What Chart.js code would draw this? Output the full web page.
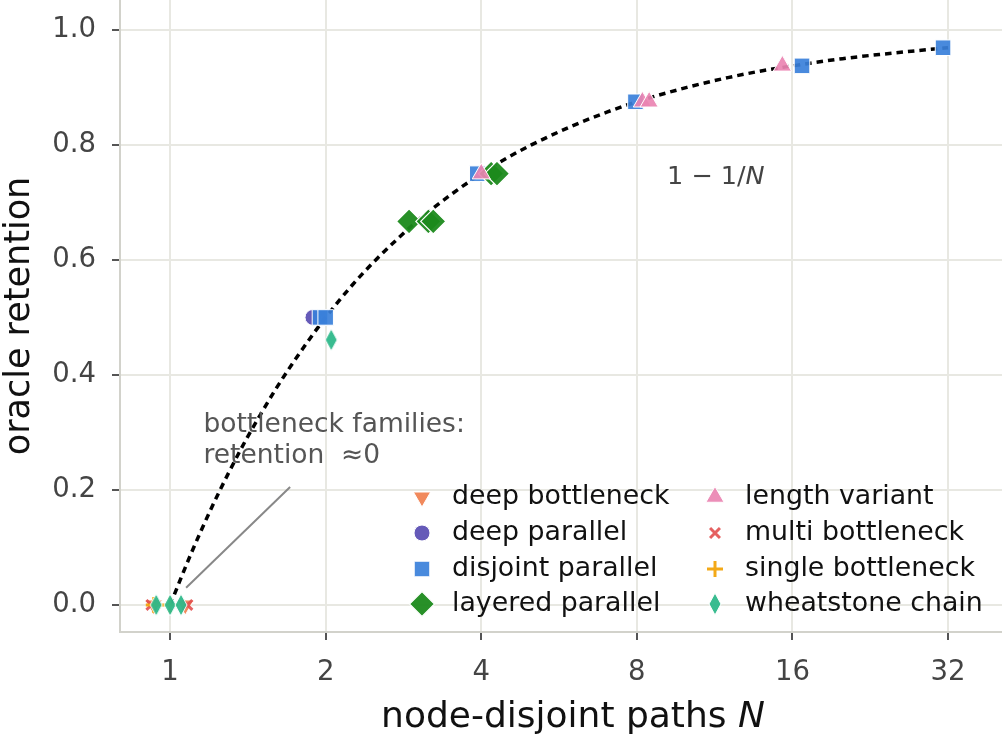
<!DOCTYPE html>
<html><head><meta charset="utf-8">
<script src="https://cdn.jsdelivr.net/npm/chart.js@4.4.1/dist/chart.umd.min.js"></script>
<style>html,body{margin:0;padding:0;background:#fff}#wrap{width:1002px;height:736px}</style>
</head><body><div id="wrap"><canvas id="c" width="1002" height="736"></canvas></div>
<script>
// ---- data ----
const xTickValues = [1, 2, 4, 8, 16, 32];
const yTickValues = [0.0, 0.2, 0.4, 0.6, 0.8, 1.0];

const familyNames = ['deep bottleneck', 'deep parallel', 'disjoint parallel', 'layered parallel',
                     'length variant', 'multi bottleneck', 'single bottleneck', 'wheatstone chain'];

const deepBottleneckN = [0.93, 1.07];
const deepBottleneckR = [0.0, 0.0];
const deepParallelN = [1.89];
const deepParallelR = [0.5];
const disjointParallelN = [1.95, 2.0, 3.93, 7.95, 16.7, 31.3];
const disjointParallelR = [0.5, 0.5, 0.75, 0.875, 0.9375, 0.969];
const layeredParallelN = [2.9, 3.16, 3.23, 4.18, 4.29];
const layeredParallelR = [0.667, 0.667, 0.667, 0.75, 0.75];
const lengthVariantN = [4.0, 8.2, 8.45, 15.3];
const lengthVariantR = [0.75, 0.875, 0.875, 0.9375];
const multiBottleneckN = [0.92, 1.08];
const multiBottleneckR = [0.0, 0.0];
const singleBottleneckN = [0.93, 1.0];
const singleBottleneckR = [0.0, 0.0];
const wheatstoneChainN = [0.94, 1.0, 1.05, 2.05];
const wheatstoneChainR = [0.0, 0.0, 0.0, 0.461];

// reference curve 1 - 1/N
const curveN = [1, 1.1, 1.2, 1.3, 1.4, 1.5, 1.6, 1.8, 2, 2.25, 2.5, 2.75, 3, 3.5, 4, 4.5, 5, 6, 7, 8, 10, 12, 14, 16, 20, 24, 28, 32];
const curveR = [0, 0.091, 0.167, 0.231, 0.286, 0.333, 0.375, 0.444, 0.5, 0.556, 0.6, 0.636, 0.667, 0.714, 0.75, 0.778, 0.8, 0.833, 0.857, 0.875, 0.9, 0.917, 0.929, 0.9375, 0.95, 0.958, 0.964, 0.969];

// annotation anchors (data coordinates)
const annotLineN = [1.074, 1.707];
const annotLineR = [0.030, 0.205];
const annotTextN = 1.16;
const annotTextR = [0.313, 0.259];
const annotLines = ['bottleneck families:', 'retention  \u22480'];
const formulaN = 9.15;
const formulaR = 0.743;

// ---- styles ----
const FONT = '"DejaVu Sans", "Liberation Sans", sans-serif';
function thinDiamond(color) {
  const c = document.createElement('canvas');
  c.width = 16; c.height = 24;
  const g = c.getContext('2d');
  g.beginPath();
  g.moveTo(8, 1); g.lineTo(14, 12); g.lineTo(8, 23); g.lineTo(2, 12); g.closePath();
  g.fillStyle = color; g.fill();
  g.strokeStyle = '#fff'; g.lineWidth = 1; g.stroke();
  return c;
}
const familyStyles = [
  {color: 'rgba(240,124,74,0.9)', pointStyle: 'triangle', radius: 10, rotation: 180, border: '#fff', bw: 1},
  {color: 'rgba(88,76,178,0.92)', pointStyle: 'circle', radius: 8, rotation: 0, border: '#fff', bw: 1},
  {color: 'rgba(58,128,218,0.92)', pointStyle: 'rect', radius: 11, rotation: 0, border: '#fff', bw: 1},
  {color: 'rgba(28,138,28,0.95)', pointStyle: 'rectRot', radius: 12.5, rotation: 0, border: '#fff', bw: 1.2},
  {color: 'rgba(234,132,178,0.92)', pointStyle: 'triangle', radius: 10.5, rotation: 0, border: '#fff', bw: 1},
  {color: 'rgba(226,80,80,0.9)', pointStyle: 'crossRot', radius: 7, rotation: 0, border: 'rgba(226,80,80,0.9)', bw: 3},
  {color: 'rgba(242,164,12,0.95)', pointStyle: 'cross', radius: 8, rotation: 0, border: 'rgba(242,164,12,0.95)', bw: 3},
  {color: 'rgba(46,184,138,0.95)', pointStyle: null, radius: 11, rotation: 0, border: '#fff', bw: 0},
];
familyStyles[7].pointStyle = thinDiamond('rgba(46,184,138,0.95)');

const familyN = [deepBottleneckN, deepParallelN, disjointParallelN, layeredParallelN, lengthVariantN, multiBottleneckN, singleBottleneckN, wheatstoneChainN];
const familyR = [deepBottleneckR, deepParallelR, disjointParallelR, layeredParallelR, lengthVariantR, multiBottleneckR, singleBottleneckR, wheatstoneChainR];

const datasets = [{
  label: 'curve',
  data: curveN.map((n, i) => ({x: n, y: curveR[i]})),
  showLine: true, pointRadius: 0, borderColor: '#000', borderWidth: 3.5,
  borderDash: [6.5, 5], cubicInterpolationMode: 'monotone', order: 100
}];
familyNames.forEach((name, i) => {
  const s = familyStyles[i];
  datasets.push({
    label: name,
    data: familyN[i].map((n, j) => ({x: n, y: familyR[i][j]})),
    showLine: false,
    pointStyle: s.pointStyle, pointRadius: s.radius, pointRotation: s.rotation,
    backgroundColor: s.color, borderColor: s.border, pointBorderWidth: s.bw, borderWidth: s.bw,
    pointHoverRadius: s.radius, order: 8 - i
  });
});

const overlay = {
  id: 'overlay',
  afterDatasetsDraw(chart) {
    const ctx = chart.ctx, xs = chart.scales.x, ys = chart.scales.y;
    ctx.save();
    ctx.strokeStyle = '#888'; ctx.lineWidth = 2;
    ctx.beginPath();
    ctx.moveTo(xs.getPixelForValue(annotLineN[0]), ys.getPixelForValue(annotLineR[0]));
    ctx.lineTo(xs.getPixelForValue(annotLineN[1]), ys.getPixelForValue(annotLineR[1]));
    ctx.stroke();
    ctx.fillStyle = '#555'; ctx.font = '26.5px ' + FONT; ctx.textBaseline = 'middle'; ctx.textAlign = 'left';
    annotLines.forEach((t, i) => ctx.fillText(t, xs.getPixelForValue(annotTextN), ys.getPixelForValue(annotTextR[i])));
    const fx = xs.getPixelForValue(formulaN), fy = ys.getPixelForValue(formulaR);
    ctx.fillStyle = '#444'; ctx.font = '25.5px ' + FONT;
    const p1 = '1 \u2212 1/';
    ctx.fillText(p1, fx, fy);
    const w1 = ctx.measureText(p1).width;
    ctx.font = 'italic 25.5px ' + FONT;
    ctx.fillText('N', fx + w1, fy);
    ctx.restore();
  },
  afterDraw(chart) {
    const ctx = chart.ctx;
    ctx.save();
    const cols = [{m: 422, t: 452}, {m: 715, t: 745}];
    const rows = [497, 533, 569, 604];
    ctx.font = '26.8px ' + FONT; ctx.textBaseline = 'middle'; ctx.textAlign = 'left';
    familyNames.forEach((name, i) => {
      const col = cols[Math.floor(i / 4)], y = rows[i % 4];
      const s = familyStyles[i];
      ctx.fillStyle = s.color; ctx.strokeStyle = s.border; ctx.lineWidth = s.bw;
      Chart.helpers.drawPoint(ctx, {pointStyle: s.pointStyle, radius: s.radius, rotation: s.rotation, borderWidth: s.bw}, col.m, y);
      ctx.fillStyle = '#111';
      ctx.fillText(name, col.t, y);
    });
    ctx.fillStyle = '#111';
    ctx.font = '36px ' + FONT;
    const a = 'node-disjoint paths ';
    const wa = ctx.measureText(a).width;
    ctx.font = 'italic 36px ' + FONT;
    const wb = ctx.measureText('N').width;
    const x0 = 573 - (wa + wb) / 2;
    ctx.textAlign = 'left';
    ctx.font = '36px ' + FONT; ctx.fillText(a, x0, 718);
    ctx.font = 'italic 36px ' + FONT; ctx.fillText('N', x0 + wa, 718);
    ctx.translate(20, 316); ctx.rotate(-Math.PI / 2);
    ctx.font = '35px ' + FONT; ctx.textAlign = 'center';
    ctx.fillText('oracle retention', 0, 0);
    ctx.restore();
  }
};

new Chart(document.getElementById('c'), {
  type: 'scatter',
  data: {datasets},
  options: {
    responsive: false, animation: false, devicePixelRatio: 1,
    layout: {padding: 0, autoPadding: false},
    plugins: {legend: {display: false}, tooltip: {enabled: false}},
    scales: {
      x: {
        type: 'logarithmic', min: 0.8, max: 40.7,
        afterBuildTicks: s => { s.ticks = xTickValues.map(v => ({value: v})); },
        afterFit: s => { s.height = 104; s.paddingLeft = 0; s.paddingRight = 0; },
        ticks: {callback: v => String(v), color: '#444', font: {family: FONT, size: 27.5}, padding: 16, maxRotation: 0, autoSkip: false},
        grid: {color: '#e8e8e2', lineWidth: 2, tickColor: '#555', tickLength: 8, tickWidth: 2},
        border: {display: true, color: '#d2d2cb', width: 2}
      },
      y: {
        type: 'linear', min: -0.047, max: 1.052,
        afterBuildTicks: s => { s.ticks = yTickValues.map(v => ({value: v})); },
        afterFit: s => { s.width = 120; s.paddingTop = 0; s.paddingBottom = 0; },
        ticks: {callback: v => v.toFixed(1), color: '#444', font: {family: FONT, size: 27.5}, padding: 16, autoSkip: false},
        grid: {color: '#e8e8e2', lineWidth: 2, tickColor: '#555', tickLength: 8, tickWidth: 2},
        border: {display: true, color: '#d2d2cb', width: 2}
      }
    }
  },
  plugins: [overlay]
});
</script></body></html>
